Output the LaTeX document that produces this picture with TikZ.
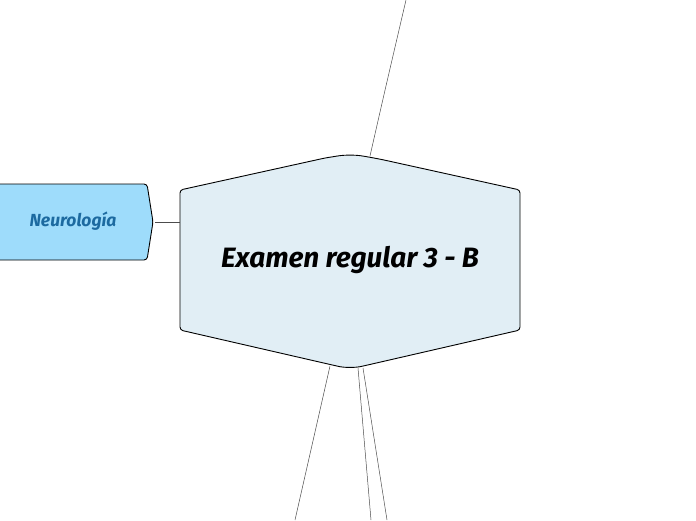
\documentclass[tikz,border=0pt]{standalone}
\usepackage{fontspec}
\setmainfont{Fira Sans}
\definecolor{hexfill}{HTML}{E1EEF5}
\definecolor{tabfill}{HTML}{9EDCFB}
\definecolor{tabtext}{HTML}{1C6AA0}
\tikzset{
  shapeline/.style={draw=black, line width=0.9pt, rounded corners=3pt},
  branch/.style={draw=black!70, line width=0.5pt}
}
\begin{document}
\begin{tikzpicture}[x=1pt, y=-1pt]
\useasboundingbox (0,0) rectangle (696,520);
% central topic
\draw[shapeline, fill=hexfill] (180,190) -- (325,158)
  [rounded corners=12pt] -- (350,154) -- (375,158) [rounded corners=3pt] -- (520,190)
  -- (520,330) -- (372,364) [rounded corners=12pt] -- (350,369) -- (328,364)
  [rounded corners=3pt] -- (180,330) -- cycle;
\node (main) at (350,260) {\fontsize{28}{32}\selectfont\bfseries\itshape Examen regular 3 - B};
% side topic
\draw[shapeline, fill=tabfill] (-5,184) -- (147,184) -- (153,222) -- (147,260) -- (-5,260) -- cycle;
\node (neuro) at (73,221) {\fontsize{17.5}{20}\selectfont\bfseries\itshape\color{tabtext}Neurología};
\coordinate (ntip) at (155,222);
\coordinate (mleft) at (180,222);
\coordinate (mtop) at (370,156);
\coordinate (up) at (406,0);
\coordinate (b1) at (330,366);
\coordinate (b2) at (358,368);
\coordinate (b3) at (363,368);
\coordinate (d1) at (295,520);
\coordinate (d2) at (371,520);
\coordinate (d3) at (387,520);
\draw[branch] (ntip) -- (mleft);
\draw[branch] (mtop) .. controls (385,90) .. (up);
\draw[branch] (b1) -- (d1);
\draw[branch] (b2) -- (d2);
\draw[branch] (b3) -- (d3);
\end{tikzpicture}
\end{document}
